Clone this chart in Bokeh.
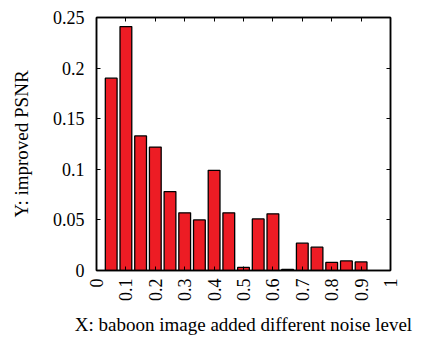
import math
from bokeh.plotting import figure
from bokeh.models import LinearAxis, FixedTicker, ColumnDataSource
from bokeh.embed import file_html
from bokeh.resources import INLINE

# Data
noise_level = [0.05, 0.10, 0.15, 0.20, 0.25, 0.30, 0.35, 0.40, 0.45,
               0.50, 0.55, 0.60, 0.65, 0.70, 0.75, 0.80, 0.85, 0.90]
improved_psnr = [0.190, 0.241, 0.133, 0.122, 0.078, 0.057, 0.050, 0.099, 0.057,
                 0.003, 0.051, 0.056, 0.001, 0.027, 0.023, 0.008, 0.0095, 0.0085]
x_ticks = [0, 0.1, 0.2, 0.3, 0.4, 0.5, 0.6, 0.7, 0.8, 0.9, 1]
y_ticks = [0, 0.05, 0.1, 0.15, 0.2, 0.25]
x_tick_labels = {0: "0", 0.1: "0.1", 0.2: "0.2", 0.3: "0.3", 0.4: "0.4", 0.5: "0.5",
                 0.6: "0.6", 0.7: "0.7", 0.8: "0.8", 0.9: "0.9", 1: "1"}
y_tick_labels = {0: "0", 0.05: "0.05", 0.1: "0.1", 0.15: "0.15", 0.2: "0.2", 0.25: "0.25"}
x_title = "X: baboon image added different noise level"
y_title = "Y: improved PSNR"

FONT = "Liberation Serif"

p = figure(width=430, height=338, x_range=(0, 1), y_range=(0, 0.25),
           frame_width=294, frame_height=253,
           min_border_left=96, min_border_right=40, min_border_top=17, min_border_bottom=68,
           output_backend="svg", toolbar_location=None)
p.background_fill_color = "white"
p.border_fill_color = "white"
p.xgrid.visible = False
p.ygrid.visible = False
p.outline_line_color = "black"
p.outline_line_width = 1.5

src = ColumnDataSource(dict(x=noise_level, top=improved_psnr))
p.vbar(x="x", top="top", bottom=0, width=0.04, source=src,
       fill_color="#ed1c24", line_color="black", line_width=1.3)

def style(ax, show_labels=True):
    ax.axis_line_color = "black"
    ax.axis_line_width = 1.5
    ax.major_tick_in = 4
    ax.major_tick_out = 0
    ax.minor_tick_line_color = None
    ax.major_tick_line_color = "black"
    ax.major_tick_line_width = 1
    ax.major_label_text_font = FONT
    ax.major_label_text_font_size = "18px"
    ax.major_label_text_color = "black"
    ax.axis_label_text_font = FONT
    ax.axis_label_text_font_size = "19px"
    ax.axis_label_text_font_style = "normal"
    ax.axis_label_text_color = "black"
    if not show_labels:
        ax.major_label_text_font_size = "0px"
        ax.major_label_text_alpha = 0

xa = p.xaxis[0]
xa.ticker = FixedTicker(ticks=x_ticks)
xa.major_label_overrides = x_tick_labels
xa.major_label_orientation = math.pi / 2
xa.major_label_standoff = 8
style(xa)
xa.axis_label = x_title
xa.axis_label_standoff = 10

ya = p.yaxis[0]
ya.ticker = FixedTicker(ticks=y_ticks)
ya.major_label_overrides = y_tick_labels
ya.major_label_standoff = 12
style(ya)
ya.axis_label = y_title
ya.axis_label_standoff = 18

top_ax = LinearAxis(ticker=FixedTicker(ticks=x_ticks))
style(top_ax, False)
p.add_layout(top_ax, "above")
right_ax = LinearAxis(ticker=FixedTicker(ticks=y_ticks))
style(right_ax, False)
p.add_layout(right_ax, "right")

open("out.html", "w").write(file_html(p, INLINE))
